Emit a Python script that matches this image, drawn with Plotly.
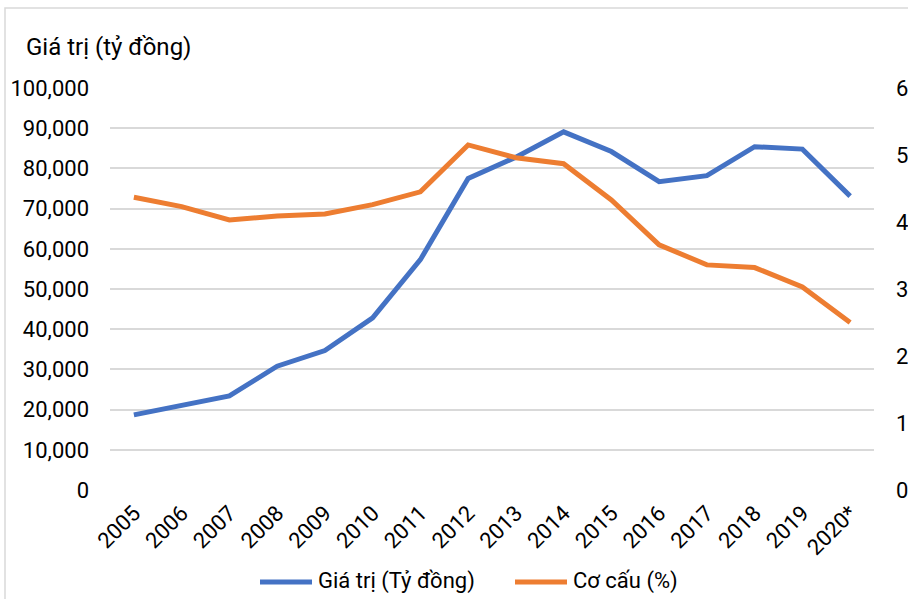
import plotly.graph_objects as go

years = ["2005", "2006", "2007", "2008", "2009", "2010", "2011", "2012",
         "2013", "2014", "2015", "2016", "2017", "2018", "2019", "2020*"]
gia_tri = [18700, 21000, 23400, 30800, 34700, 42800, 57300, 77500,
           82800, 89100, 84200, 76700, 78200, 85400, 84800, 73100]
co_cau = [4.37, 4.23, 4.03, 4.09, 4.12, 4.26, 4.45, 5.15,
          4.96, 4.87, 4.33, 3.66, 3.36, 3.32, 3.03, 2.50]

series_names = ["Giá trị (Tỷ đồng)", "Cơ cấu (%)"]
left_ticks = list(range(0, 100001, 10000))
right_ticks = list(range(0, 7))

BLUE = "#4472C4"
ORANGE = "#ED7D31"
FONT = "Roboto"
W, H = 908, 599
L, R, T, B = 110, 34, 88, 109
PW, PH = W - L - R, H - T - B


def px_x(x):
    return (x - L) / PW


def px_y(y):
    return (H - B - y) / PH


fig = go.Figure()
fig.add_trace(go.Scatter(
    x=years, y=gia_tri, name=series_names[0], mode="lines",
    line=dict(color=BLUE, width=5), yaxis="y"))
fig.add_trace(go.Scatter(
    x=years, y=co_cau, name=series_names[1], mode="lines",
    line=dict(color=ORANGE, width=5), yaxis="y2"))

# legend drawn below the plot: line sample + label for each series
legend_items = [(260, 312, 316, BLUE, series_names[0]),
                (515, 567, 571, ORANGE, series_names[1])]
shapes = [dict(
    type="rect", xref="paper", yref="paper",
    x0=px_x(5), x1=px_x(920), y0=px_y(612), y1=px_y(8),
    line=dict(color="#D9D9D9", width=1.5), layer="below")]
annotations = [dict(
    text="Giá trị (tỷ đồng)", xref="paper", yref="paper",
    x=px_x(24), y=px_y(47), xanchor="left", yanchor="middle",
    showarrow=False, font=dict(size=24))]
for x0, x1, xt, color, label in legend_items:
    shapes.append(dict(type="line", xref="paper", yref="paper",
                       x0=px_x(x0), x1=px_x(x1), y0=px_y(582), y1=px_y(582),
                       line=dict(color=color, width=5)))
    annotations.append(dict(text=label, xref="paper", yref="paper",
                            x=px_x(xt), y=px_y(581), xanchor="left",
                            yanchor="middle", showarrow=False,
                            font=dict(size=22)))

fig.update_layout(
    width=W, height=H,
    margin=dict(l=L, r=R, t=T, b=B),
    paper_bgcolor="white", plot_bgcolor="white",
    font=dict(family=FONT, size=22, color="#000000"),
    showlegend=False,
    xaxis=dict(
        type="category", range=[-0.5, len(years) - 0.5], tickangle=-45,
        showgrid=False, showline=False, zeroline=False, ticks="",
        automargin=False, ticklabelstandoff=5, tickfont=dict(size=22)),
    yaxis=dict(
        range=[0, 100000], tickvals=left_ticks,
        ticktext=[f"{v:,}" for v in left_ticks],
        showgrid=True, gridcolor="#D9D9D9", gridwidth=1.5,
        zeroline=False, showline=False, ticks="", automargin=False,
        ticklabelstandoff=20, tickfont=dict(size=22)),
    yaxis2=dict(
        range=[0, 6], tickvals=right_ticks, overlaying="y", side="right",
        showgrid=False, zeroline=False, showline=False, ticks="",
        automargin=False, ticklabelstandoff=21, tickfont=dict(size=22)),
    annotations=annotations,
    shapes=shapes,
)

fig.write_html("out.html")
